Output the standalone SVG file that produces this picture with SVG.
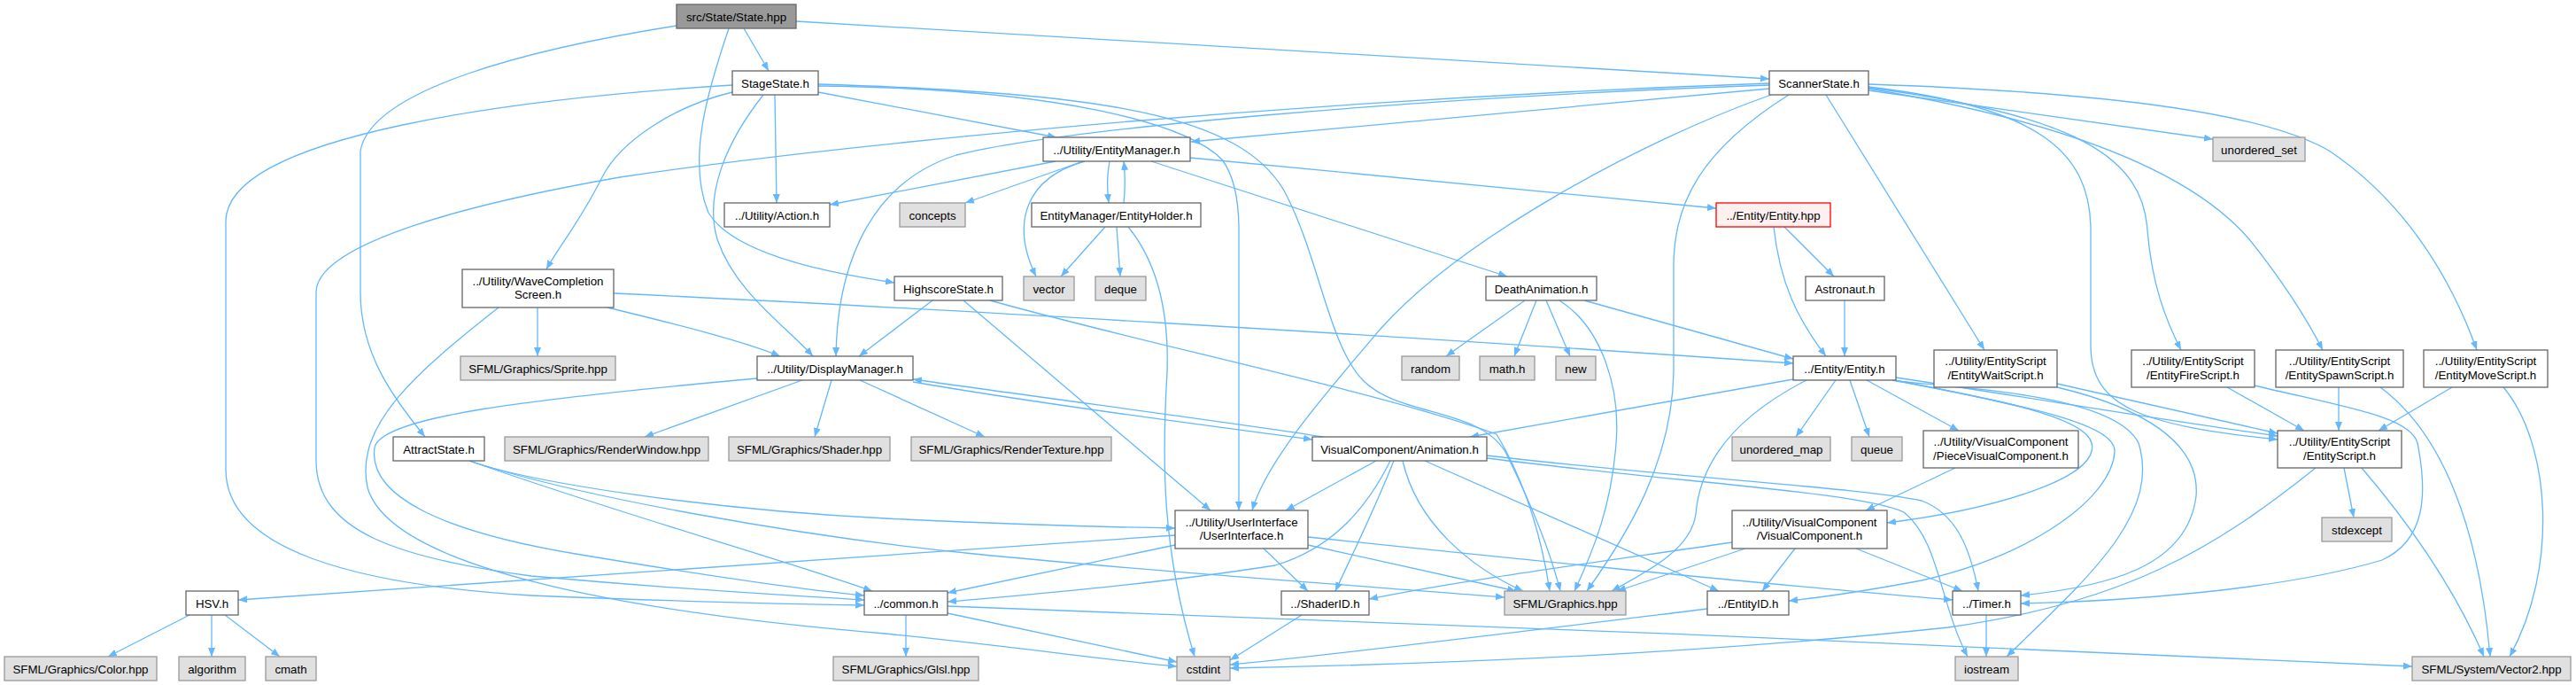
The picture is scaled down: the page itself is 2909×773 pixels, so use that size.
<svg xmlns="http://www.w3.org/2000/svg" width="2909" height="773" viewBox="0 0 2909 773">
<defs>
<marker id="a" viewBox="0 0 10 8" refX="10" refY="4" markerWidth="10" markerHeight="8" markerUnits="userSpaceOnUse" orient="auto"><path d="M0,0 L10,4 L0,8 z" fill="#63b8ff"/></marker>
<style>
text{font-family:"Liberation Sans",Arial,sans-serif;font-size:13.3px;text-anchor:middle;fill:#000}
.n rect{fill:#fff;stroke:#666;stroke-width:1.3}
.g rect{fill:#e0e0e0;stroke:#999;stroke-width:1.3}
.m rect{fill:#999;stroke:#666;stroke-width:1.3}
.r rect{fill:#fff0f0;stroke:#ff0000;stroke-width:1.3}
#edges path{fill:none;stroke:#63b8ff;stroke-width:1.3;marker-end:url(#a)}
</style>
</defs>
<rect width="2909" height="773" fill="#fff"/>
<g id="edges">
<path d="M 840 32 L 868 80"/>
<path d="M 899 24 L 1998 89"/>
<path d="M 823 32 C 800 100, 775 180, 800 240 C 830 290, 950 310, 1010 319"/>
<path d="M 764 29 C 600 55, 420 100, 407 170 L 407 330 C 407 400, 445 450, 480 493"/>
<path d="M 827 96 C 600 110, 255 150, 255 250 L 255 530 C 255 620, 400 660, 600 672 C 800 680, 900 682, 976 683"/>
<path d="M 827 104 C 760 120, 700 160, 680 200 C 655 250, 630 280, 617 304"/>
<path d="M 875 107 L 877 229"/>
<path d="M 862 107 C 820 160, 795 220, 810 270 C 830 330, 890 370, 918 402"/>
<path d="M 924 104 L 1193 155"/>
<path d="M 924 95 C 1250 105, 1400 130, 1450 215 C 1490 290, 1500 390, 1540 430 C 1580 470, 1670 460, 1700 510 C 1730 570, 1750 620, 1762 667"/>
<path d="M 924 97 C 1200 100, 1340 140, 1380 180 C 1395 200, 1399 230, 1399 260 L 1399 576"/>
<path d="M 1998 100 L 1345 160"/>
<path d="M 1998 96 C 1600 110, 1200 145, 1080 175 C 970 210, 945 320, 944 402"/>
<path d="M 1998 94 C 1400 115, 900 170, 700 200 C 500 235, 357 280, 357 330 L 357 520 C 357 600, 450 630, 600 650 C 800 668, 900 672, 976 677"/>
<path d="M 2000 107 C 1850 160, 1650 270, 1560 370 C 1500 440, 1430 520, 1414 576"/>
<path d="M 2020 107 C 1920 170, 1890 230, 1890 300 L 1890 420 C 1888 520, 1840 600, 1792 667"/>
<path d="M 2062 107 L 2241 395"/>
<path d="M 2110 95 C 2400 105, 2560 130, 2630 170 C 2720 230, 2770 320, 2797 395"/>
<path d="M 2110 98 C 2300 120, 2361 170, 2361 260 L 2361 390 C 2361 460, 2420 480, 2572 496"/>
<path d="M 2110 99 C 2350 130, 2420 180, 2425 260 C 2430 320, 2445 360, 2463 395"/>
<path d="M 2110 100 C 2350 140, 2480 200, 2540 270 C 2580 320, 2605 360, 2623 395"/>
<path d="M 2110 102 L 2499 157"/>
<path d="M 1053 339 L 970 402"/>
<path d="M 1088 339 L 1367 576"/>
<path d="M 1118 339 C 1300 390, 1550 440, 1690 490 C 1720 540, 1740 600, 1750 667"/>
<path d="M 530 520 C 600 545, 800 575, 1000 585 C 1150 592, 1250 595, 1327 596"/>
<path d="M 530 520 C 650 560, 900 605, 1100 625 C 1300 645, 1550 662, 1699 674"/>
<path d="M 530 520 C 700 580, 880 630, 985 667"/>
<path d="M 693 331 C 1000 345, 1600 380, 2025 410"/>
<path d="M 686 347 C 760 365, 840 385, 881 402"/>
<path d="M 607 347 L 607 402"/>
<path d="M 563 347 C 470 420, 400 480, 415 550 C 440 640, 700 690, 1000 715 C 1150 730, 1250 745, 1329 752"/>
<path d="M 906 429 L 728 493"/>
<path d="M 939 429 L 920 493"/>
<path d="M 971 429 L 1112 493"/>
<path d="M 855 427 C 600 450, 430 470, 423 505 C 415 560, 500 600, 650 625 C 800 650, 900 665, 976 672"/>
<path d="M 1031 431 C 1200 460, 1400 485, 1482 496"/>
<path d="M 1495 493 C 1400 478, 1200 452, 1031 428"/>
<path d="M 1192 182 L 937 231"/>
<path d="M 1223 182 L 1090 229"/>
<path d="M 1225 182 C 1160 200, 1140 250, 1170 312"/>
<path d="M 1253 182 C 1250 200, 1250 210, 1252 229"/>
<path d="M 1269 229 C 1271 210, 1271 200, 1269 182"/>
<path d="M 1344 178 L 1938 235"/>
<path d="M 1300 182 L 1702 312"/>
<path d="M 1248 256 L 1198 312"/>
<path d="M 1261 256 L 1265 312"/>
<path d="M 1274 256 C 1310 300, 1320 360, 1318 420 C 1312 520, 1312 620, 1349 741"/>
<path d="M 2015 256 L 2071 312"/>
<path d="M 2003 256 C 2010 320, 2030 360, 2062 402"/>
<path d="M 2083 339 L 2083 402"/>
<path d="M 1722 339 L 1633 402"/>
<path d="M 1735 339 L 1710 402"/>
<path d="M 1746 339 L 1773 402"/>
<path d="M 1761 339 C 1810 370, 1830 440, 1825 500 C 1820 570, 1800 620, 1778 667"/>
<path d="M 1789 339 L 2025 405"/>
<path d="M 2025 428 L 1660 493"/>
<path d="M 2040 429 C 1960 470, 1920 520, 1915 580 C 1910 620, 1860 645, 1820 667"/>
<path d="M 2073 429 L 2028 493"/>
<path d="M 2089 429 L 2111 493"/>
<path d="M 2108 429 L 2212 486"/>
<path d="M 2137 429 C 2250 450, 2355 470, 2362 500 C 2372 540, 2250 575, 2131 590"/>
<path d="M 2140 429 C 2300 460, 2390 480, 2388 510 C 2385 560, 2300 625, 2170 655 C 2100 668, 2060 674, 2020 678"/>
<path d="M 2141 426 C 2300 450, 2450 475, 2572 492"/>
<path d="M 2141 430 C 2250 440, 2390 450, 2415 500 C 2440 580, 2360 650, 2266 741"/>
<path d="M 2323 433 L 2572 489"/>
<path d="M 2323 437 C 2420 460, 2485 500, 2480 560 C 2470 640, 2380 662, 2282 672"/>
<path d="M 2515 437 L 2602 486"/>
<path d="M 2546 435 C 2650 460, 2722 470, 2730 500 C 2742 560, 2738 610, 2690 632 C 2570 668, 2380 679, 2282 681"/>
<path d="M 2641 437 L 2641 486"/>
<path d="M 2688 437 C 2760 490, 2800 600, 2812 741"/>
<path d="M 2769 437 L 2686 486"/>
<path d="M 2827 437 C 2880 500, 2890 640, 2834 741"/>
<path d="M 2647 528 L 2658 584"/>
<path d="M 2667 528 C 2720 590, 2770 660, 2805 741"/>
<path d="M 2615 528 C 2500 620, 2400 680, 2200 708 C 1900 740, 1600 750, 1389 754"/>
<path d="M 2243 694 L 2243 741"/>
<path d="M 2208 528 L 2107 576"/>
<path d="M 1956 612 C 1800 635, 1650 655, 1546 676"/>
<path d="M 1971 619 L 1826 667"/>
<path d="M 2027 619 L 1990 667"/>
<path d="M 2096 619 L 2216 667"/>
<path d="M 1327 604 L 269 677"/>
<path d="M 1327 615 L 1070 669"/>
<path d="M 1427 619 L 1477 667"/>
<path d="M 1477 615 L 1712 667"/>
<path d="M 1477 606 C 1800 640, 2000 660, 2205 677"/>
<path d="M 1570 520 C 1540 580, 1500 620, 1440 638 C 1300 660, 1150 672, 1070 679"/>
<path d="M 1554 520 L 1452 576"/>
<path d="M 1574 520 C 1550 580, 1525 630, 1508 667"/>
<path d="M 1584 520 C 1600 590, 1660 640, 1720 667"/>
<path d="M 1609 520 L 1941 667"/>
<path d="M 1679 514 C 1900 540, 2100 550, 2170 565 C 2210 580, 2225 620, 2234 667"/>
<path d="M 1679 517 C 1900 545, 2100 555, 2150 578 C 2190 610, 2190 680, 2222 741"/>
<path d="M 1470 694 L 1389 745"/>
<path d="M 1928 687 C 1700 715, 1500 740, 1389 750"/>
<path d="M 1023 694 L 1023 741"/>
<path d="M 1070 692 L 1329 747"/>
<path d="M 1070 684 C 1500 700, 2300 730, 2724 752"/>
<path d="M 214 694 L 122 741"/>
<path d="M 239 694 L 239 741"/>
<path d="M 254 694 L 316 741"/>
</g>
<g id="n_state" class="m"><rect x="764" y="5" width="135" height="27"/><text x="831.5" y="23.5">src/State/State.hpp</text></g>
<g id="n_stage" class="n"><rect x="827" y="80" width="97" height="27"/><text x="875.5" y="98.5">StageState.h</text></g>
<g id="n_scanner" class="n"><rect x="1998" y="80" width="112" height="27"/><text x="2054" y="98.5">ScannerState.h</text></g>
<g id="n_em" class="n"><rect x="1178" y="155" width="166" height="27"/><text x="1261" y="173.5">../Utility/EntityManager.h</text></g>
<g id="n_uset" class="g"><rect x="2499" y="155" width="104" height="27"/><text x="2551" y="173.5">unordered_set</text></g>
<g id="n_action" class="n"><rect x="818" y="229" width="119" height="27"/><text x="877.5" y="247.5">../Utility/Action.h</text></g>
<g id="n_concepts" class="g"><rect x="1016" y="229" width="74" height="27"/><text x="1053" y="247.5">concepts</text></g>
<g id="n_holder" class="n"><rect x="1165" y="229" width="191" height="27"/><text x="1260.5" y="247.5">EntityManager/EntityHolder.h</text></g>
<g id="n_entityhpp" class="r"><rect x="1938" y="229" width="129" height="27"/><text x="2002.5" y="247.5">../Entity/Entity.hpp</text></g>
<g id="n_wave" class="n"><rect x="522" y="304" width="171" height="43"/><text x="607.5" y="322">../Utility/WaveCompletion</text><text x="607.5" y="337">Screen.h</text></g>
<g id="n_high" class="n"><rect x="1010" y="312" width="122" height="27"/><text x="1071" y="330.5">HighscoreState.h</text></g>
<g id="n_vector" class="g"><rect x="1156" y="312" width="57" height="27"/><text x="1184.5" y="330.5">vector</text></g>
<g id="n_deque" class="g"><rect x="1237" y="312" width="57" height="27"/><text x="1265.5" y="330.5">deque</text></g>
<g id="n_death" class="n"><rect x="1678" y="312" width="125" height="27"/><text x="1740.5" y="330.5">DeathAnimation.h</text></g>
<g id="n_astro" class="n"><rect x="2039" y="312" width="89" height="27"/><text x="2083.5" y="330.5">Astronaut.h</text></g>
<g id="n_sprite" class="g"><rect x="520" y="402" width="175" height="27"/><text x="607.5" y="420.5">SFML/Graphics/Sprite.hpp</text></g>
<g id="n_dm" class="n"><rect x="855" y="402" width="176" height="27"/><text x="943" y="420.5">../Utility/DisplayManager.h</text></g>
<g id="n_random" class="g"><rect x="1583" y="402" width="65" height="27"/><text x="1615.5" y="420.5">random</text></g>
<g id="n_math" class="g"><rect x="1671" y="402" width="62" height="27"/><text x="1702" y="420.5">math.h</text></g>
<g id="n_new" class="g"><rect x="1757" y="402" width="45" height="27"/><text x="1779.5" y="420.5">new</text></g>
<g id="n_entityh" class="n"><rect x="2025" y="402" width="116" height="27"/><text x="2083" y="420.5">../Entity/Entity.h</text></g>
<g id="n_wait" class="n"><rect x="2184" y="395" width="139" height="42"/><text x="2253.5" y="412">../Utility/EntityScript</text><text x="2253.5" y="428">/EntityWaitScript.h</text></g>
<g id="n_fire" class="n"><rect x="2407" y="395" width="139" height="42"/><text x="2476.5" y="412">../Utility/EntityScript</text><text x="2476.5" y="428">/EntityFireScript.h</text></g>
<g id="n_spawn" class="n"><rect x="2570" y="395" width="144" height="42"/><text x="2642" y="412">../Utility/EntityScript</text><text x="2642" y="428">/EntitySpawnScript.h</text></g>
<g id="n_move" class="n"><rect x="2737" y="395" width="140" height="42"/><text x="2807" y="412">../Utility/EntityScript</text><text x="2807" y="428">/EntityMoveScript.h</text></g>
<g id="n_attract" class="n"><rect x="444" y="493" width="103" height="27"/><text x="495.5" y="511.5">AttractState.h</text></g>
<g id="n_rwin" class="g"><rect x="570" y="493" width="230" height="27"/><text x="685" y="511.5">SFML/Graphics/RenderWindow.hpp</text></g>
<g id="n_shader" class="g"><rect x="823" y="493" width="182" height="27"/><text x="914" y="511.5">SFML/Graphics/Shader.hpp</text></g>
<g id="n_rtex" class="g"><rect x="1029" y="493" width="226" height="27"/><text x="1142" y="511.5">SFML/Graphics/RenderTexture.hpp</text></g>
<g id="n_anim" class="n"><rect x="1482" y="493" width="197" height="27"/><text x="1580.5" y="511.5">VisualComponent/Animation.h</text></g>
<g id="n_umap" class="g"><rect x="1956" y="493" width="111" height="27"/><text x="2011.5" y="511.5">unordered_map</text></g>
<g id="n_queue" class="g"><rect x="2091" y="493" width="57" height="27"/><text x="2119.5" y="511.5">queue</text></g>
<g id="n_piece" class="n"><rect x="2172" y="486" width="175" height="42"/><text x="2259.5" y="503">../Utility/VisualComponent</text><text x="2259.5" y="519">/PieceVisualComponent.h</text></g>
<g id="n_escript" class="n"><rect x="2572" y="486" width="140" height="42"/><text x="2642" y="503">../Utility/EntityScript</text><text x="2642" y="519">/EntityScript.h</text></g>
<g id="n_ui" class="n"><rect x="1327" y="576" width="150" height="43"/><text x="1402" y="594">../Utility/UserInterface</text><text x="1402" y="609">/UserInterface.h</text></g>
<g id="n_vc" class="n"><rect x="1956" y="576" width="175" height="43"/><text x="2043.5" y="594">../Utility/VisualComponent</text><text x="2043.5" y="609">/VisualComponent.h</text></g>
<g id="n_stdexcept" class="g"><rect x="2622" y="584" width="79" height="27"/><text x="2661.5" y="602.5">stdexcept</text></g>
<g id="n_hsv" class="n"><rect x="210" y="667" width="59" height="27"/><text x="239.5" y="685.5">HSV.h</text></g>
<g id="n_common" class="n"><rect x="976" y="667" width="94" height="27"/><text x="1023" y="685.5">../common.h</text></g>
<g id="n_shaderid" class="n"><rect x="1447" y="667" width="99" height="27"/><text x="1496.5" y="685.5">../ShaderID.h</text></g>
<g id="n_gfx" class="g"><rect x="1699" y="667" width="137" height="27"/><text x="1767.5" y="685.5">SFML/Graphics.hpp</text></g>
<g id="n_entityid" class="n"><rect x="1928" y="667" width="92" height="27"/><text x="1974" y="685.5">../EntityID.h</text></g>
<g id="n_timer" class="n"><rect x="2205" y="667" width="77" height="27"/><text x="2243.5" y="685.5">../Timer.h</text></g>
<g id="n_color" class="g"><rect x="5" y="741" width="172" height="27"/><text x="91" y="759.5">SFML/Graphics/Color.hpp</text></g>
<g id="n_algo" class="g"><rect x="202" y="741" width="75" height="27"/><text x="239.5" y="759.5">algorithm</text></g>
<g id="n_cmath" class="g"><rect x="300" y="741" width="57" height="27"/><text x="328.5" y="759.5">cmath</text></g>
<g id="n_glsl" class="g"><rect x="941" y="741" width="164" height="27"/><text x="1023" y="759.5">SFML/Graphics/Glsl.hpp</text></g>
<g id="n_cstdint" class="g"><rect x="1329" y="741" width="60" height="27"/><text x="1359" y="759.5">cstdint</text></g>
<g id="n_iostream" class="g"><rect x="2208" y="741" width="71" height="27"/><text x="2243.5" y="759.5">iostream</text></g>
<g id="n_vec2" class="g"><rect x="2724" y="741" width="179" height="27"/><text x="2813.5" y="759.5">SFML/System/Vector2.hpp</text></g>
</svg>
